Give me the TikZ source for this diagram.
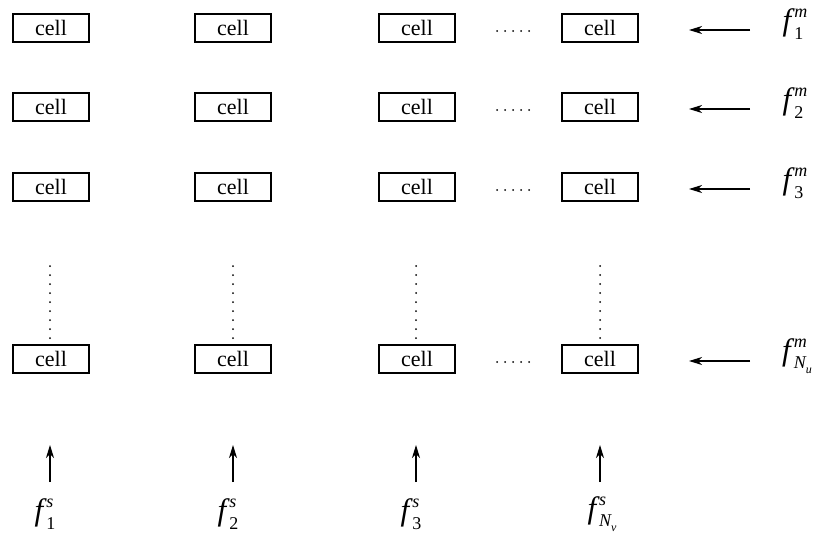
\documentclass[tikz,border=0pt]{standalone}
\usepackage{fontspec}
\setmainfont{Liberation Serif}
\usetikzlibrary{arrows.meta}
\newcommand{\flab}[2]{{\itshape f}\kern3pt\rlap{\raisebox{0.42em}{\fontsize{18}{18}\selectfont\itshape #1}}\raisebox{-0.28em}{\fontsize{18}{18}\selectfont #2}}
\newcommand{\subNx}[1]{{\itshape N}\raisebox{-0.25em}{\fontsize{12}{12}\selectfont\itshape #1}}
\begin{document}
\begin{tikzpicture}[x=1pt,y=-1pt,
  cellbox/.style={draw,line width=1.4pt,minimum width=76pt,minimum height=28pt,inner sep=0pt,font=\fontsize{22}{22}\selectfont},
  flabel/.style={font=\fontsize{31}{31}\selectfont},
  arr/.style={line width=1.4pt,-{Stealth[length=13pt,width=8pt,inset=4pt]}},
  vdots/.style={line width=2pt,dash pattern=on 0pt off 9pt,line cap=round},
  hdots/.style={line width=2pt,dash pattern=on 0pt off 8pt,line cap=round}]
\useasboundingbox (0,0) rectangle (820,533);
% rows
\foreach \r/\y in {1/28,2/107,3/187,5/359}{
  \foreach \c/\x in {1/51,2/233,3/417,4/600}{
    \node[cellbox] (c\r\c) at (\x,\y) {cell};
  }
  \coordinate (hl\r) at (497,\y+3);
  \coordinate (hr\r) at (530,\y+3);
  \draw[hdots] (hl\r) -- (hr\r);
}
\node[flabel] (fm1) at (793,24) {\flab{m}{1}};
\node[flabel] (fm2) at (793,103) {\flab{m}{2}};
\node[flabel] (fm3) at (793,183) {\flab{m}{3}};
\node[flabel] (fm5) at (797,356) {\flab{m}{\subNx{u}}};
\foreach \r/\y in {1/30,2/109,3/189,5/361}{
  \coordinate (ae\r) at (689,\y);
  \coordinate (as\r) at (750,\y);
  \draw[arr] (as\r) -- (ae\r);
}
% vertical dots
\foreach \c/\x in {1/50,2/233,3/416,4/600}{
  \coordinate (vt\c) at (\x,266);
  \coordinate (vb\c) at (\x,340);
  \draw[vdots] (vt\c) -- (vb\c);
  \coordinate (ub\c) at (\x,482);
  \coordinate (ut\c) at (\x,445);
  \draw[arr] (ub\c) -- (ut\c);
}
\node[flabel] (fs1) at (45,514) {\flab{s}{1}};
\node[flabel] (fs2) at (228,514) {\flab{s}{2}};
\node[flabel] (fs3) at (411,514) {\flab{s}{3}};
\node[flabel] (fs4) at (602,514) {\flab{s}{\subNx{v}}};
\end{tikzpicture}
\end{document}
